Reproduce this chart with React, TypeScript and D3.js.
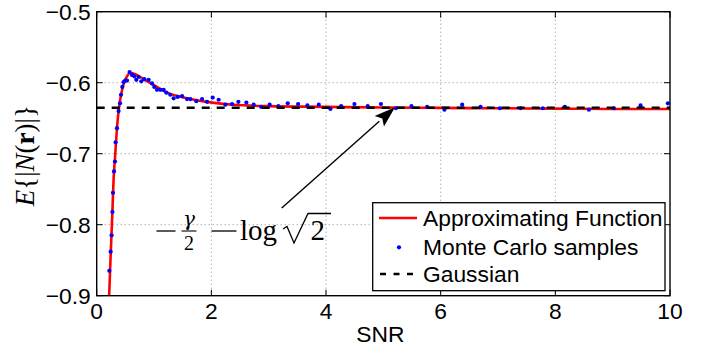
import React, { useEffect, useRef } from "react";
import * as d3 from "d3";

// axis ticks
const xTicks = [0, 2, 4, 6, 8, 10];
const yTicks = [-0.9, -0.8, -0.7, -0.6, -0.5];

// -gamma/2 - log(sqrt(2))
const gaussianValue = -0.6352;

// approximating function (red)
const approxSnr = [0.205, 0.215, 0.245, 0.27, 0.295, 0.32, 0.34, 0.36, 0.385, 0.43, 0.48, 0.53, 0.58, 0.64, 0.72, 0.82, 0.99, 1.23, 1.58, 1.92, 2.38, 3.0, 4.0, 5.0, 6.0, 7.0, 8.0, 9.0, 10.0];
const approxVal = [-0.93, -0.905, -0.84, -0.79, -0.735, -0.705, -0.68, -0.658, -0.638, -0.615, -0.599, -0.591, -0.586, -0.587, -0.59, -0.595, -0.603, -0.614, -0.622, -0.627, -0.631, -0.633, -0.634, -0.635, -0.6355, -0.636, -0.6365, -0.637, -0.637];

// Monte Carlo samples (blue dots)
const mcSnr = [0.22, 0.243, 0.26, 0.274, 0.284, 0.302, 0.319, 0.33, 0.354, 0.382, 0.407, 0.424, 0.447, 0.469, 0.499, 0.529, 0.574, 0.616, 0.656, 0.691, 0.731, 0.778, 0.831, 0.906, 0.965, 1.005, 1.052, 1.11, 1.168, 1.215, 1.284, 1.342, 1.412, 1.489, 1.576, 1.634, 1.738, 1.838, 1.925, 2.023, 2.127, 2.244, 2.361, 2.471, 2.611, 2.738, 2.867, 3.017, 3.169, 3.332, 3.513, 3.675, 3.873, 4.077, 4.264, 4.496, 4.728, 4.958, 5.22, 5.49, 5.764, 6.066, 6.375, 6.695, 7.031, 7.393, 7.782, 8.166, 8.585, 9.021, 9.487, 9.963];
const mcVal = [-0.865, -0.838, -0.815, -0.782, -0.755, -0.725, -0.711, -0.684, -0.664, -0.64, -0.629, -0.617, -0.606, -0.599, -0.597, -0.597, -0.585, -0.589, -0.591, -0.596, -0.592, -0.598, -0.595, -0.596, -0.601, -0.606, -0.61, -0.61, -0.61, -0.614, -0.617, -0.622, -0.62, -0.619, -0.623, -0.623, -0.626, -0.623, -0.627, -0.621, -0.624, -0.631, -0.63, -0.627, -0.628, -0.631, -0.634, -0.631, -0.633, -0.629, -0.63, -0.632, -0.631, -0.637, -0.633, -0.63, -0.633, -0.63, -0.636, -0.633, -0.634, -0.638, -0.631, -0.634, -0.636, -0.636, -0.636, -0.634, -0.638, -0.636, -0.632, -0.629];

const legendLabels = ["Approximating Function", "Monte Carlo samples", "Gaussian"];

const W = 704;
const H = 350;
const margin = { top: 11.7, right: 34, bottom: 54.3, left: 96.7 };
const sansFont = "'Liberation Sans', Arial, sans-serif";
const serifFont = "'Liberation Serif', 'Times New Roman', serif";
const fs = 22.8;

export default function App() {
  const ref = useRef<SVGSVGElement>(null);

  useEffect(() => {
    const root = d3.select(ref.current);
    root.selectAll("*").remove();

    const iw = W - margin.left - margin.right;
    const ih = H - margin.top - margin.bottom;

    const x = d3.scaleLinear().domain([0, 10]).range([0, iw]);
    const y = d3.scaleLinear().domain([-0.9, -0.5]).range([ih, 0]);

    root.append("rect").attr("width", W).attr("height", H).attr("fill", "#fff");

    const svg = root.append("g").attr("transform", `translate(${margin.left},${margin.top})`);

    svg.append("clipPath").attr("id", "plotclip")
      .append("rect").attr("width", iw).attr("height", ih);

    // dotted grid
    const grid = svg.append("g").attr("stroke", "#8a8a8a").attr("stroke-width", 1).attr("stroke-dasharray", "1,3");
    xTicks.slice(1, -1).forEach((t) => {
      grid.append("line").attr("x1", x(t)).attr("x2", x(t)).attr("y1", 0).attr("y2", ih);
    });
    yTicks.slice(1, -1).forEach((t) => {
      grid.append("line").attr("x1", 0).attr("x2", iw).attr("y1", y(t)).attr("y2", y(t));
    });

    const plot = svg.append("g").attr("clip-path", "url(#plotclip)");

    // approximating function
    const line = d3.line<number>()
      .x((d, i) => x(approxSnr[i]))
      .y((d) => y(d))
      .curve(d3.curveMonotoneX);
    plot.append("path")
      .attr("d", line(approxVal))
      .attr("fill", "none")
      .attr("stroke", "#ff0000")
      .attr("stroke-width", 2.6);

    // Monte Carlo samples
    plot.selectAll(".mc")
      .data(mcVal)
      .enter()
      .append("circle")
      .attr("class", "mc")
      .attr("cx", (d, i) => x(mcSnr[i]))
      .attr("cy", (d) => y(d))
      .attr("r", 2.1)
      .attr("fill", "#0000ff");

    // Gaussian
    plot.append("line")
      .attr("x1", x(0)).attr("x2", x(10))
      .attr("y1", y(gaussianValue)).attr("y2", y(gaussianValue))
      .attr("stroke", "#000")
      .attr("stroke-width", 2.4)
      .attr("stroke-dasharray", "8,7");

    // box and inside ticks
    svg.append("rect")
      .attr("width", iw).attr("height", ih)
      .attr("fill", "none").attr("stroke", "#000").attr("stroke-width", 1.4);
    const ticks = svg.append("g").attr("stroke", "#000").attr("stroke-width", 1);
    const tl = 6;
    xTicks.forEach((t) => {
      ticks.append("line").attr("x1", x(t)).attr("x2", x(t)).attr("y1", ih).attr("y2", ih - tl);
      ticks.append("line").attr("x1", x(t)).attr("x2", x(t)).attr("y1", 0).attr("y2", tl);
    });
    yTicks.forEach((t) => {
      ticks.append("line").attr("x1", 0).attr("x2", tl).attr("y1", y(t)).attr("y2", y(t));
      ticks.append("line").attr("x1", iw).attr("x2", iw - tl).attr("y1", y(t)).attr("y2", y(t));
    });

    // tick labels
    svg.selectAll(".xl")
      .data(xTicks)
      .enter()
      .append("text")
      .attr("x", (d) => x(d))
      .attr("y", ih + 23.5)
      .attr("text-anchor", "middle")
      .attr("font-family", sansFont)
      .attr("font-size", fs)
      .text((d) => String(d));
    svg.selectAll(".yl")
      .data(yTicks)
      .enter()
      .append("text")
      .attr("x", -6)
      .attr("y", (d) => y(d) + 8)
      .attr("text-anchor", "end")
      .attr("font-family", sansFont)
      .attr("font-size", fs)
      .text((d) => d.toFixed(1).replace("-", "\u2212"));

    // axis labels
    svg.append("text")
      .attr("x", x(5) - 3)
      .attr("y", ih + 46)
      .attr("text-anchor", "middle")
      .attr("font-family", sansFont)
      .attr("font-size", fs)
      .text("SNR");

    const yl = svg.append("text")
      .attr("transform", `translate(${-margin.left + 34},${y(-0.7) + 2}) rotate(-90)`)
      .attr("text-anchor", "middle")
      .attr("font-family", serifFont)
      .attr("font-size", 27);
    yl.append("tspan").attr("font-style", "italic").text("E");
    yl.append("tspan").text("{|");
    yl.append("tspan").attr("font-style", "italic").text("N");
    yl.append("tspan").text("(");
    yl.append("tspan").attr("font-weight", "bold").text("r");
    yl.append("tspan").text(")|}");

    // annotation
    const ann = root.append("g").attr("font-family", serifFont).attr("fill", "#000");
    ann.append("line").attr("x1", 156.5).attr("x2", 175.5).attr("y1", 231).attr("y2", 231).attr("stroke", "#000").attr("stroke-width", 1.3);
    ann.append("line").attr("x1", 181.5).attr("x2", 196.5).attr("y1", 231).attr("y2", 231).attr("stroke", "#000").attr("stroke-width", 1.1);
    ann.append("text").attr("x", 189).attr("y", 226).attr("text-anchor", "middle").attr("font-size", 20).attr("font-family", "'DejaVu Serif', serif").attr("font-style", "italic").text("\u03b3");
    ann.append("text").attr("x", 189).attr("y", 250).attr("text-anchor", "middle").attr("font-size", 20).text("2");
    ann.append("line").attr("x1", 211.5).attr("x2", 236.5).attr("y1", 231).attr("y2", 231).attr("stroke", "#000").attr("stroke-width", 1.3);
    ann.append("text").attr("x", 240).attr("y", 240).attr("font-size", 29).text("log");
    ann.append("path")
      .attr("d", "M283,229 L287,226.5 L294,243 L308,213.5 L331,213.5")
      .attr("fill", "none").attr("stroke", "#000").attr("stroke-width", 1.3).attr("stroke-linejoin", "miter");
    ann.append("text").attr("x", 310.5).attr("y", 240).attr("font-size", 29).text("2");

    // arrow
    const ax0 = 281.7, ay0 = 208, ax1 = 395, ay1 = 107.3;
    const ang = Math.atan2(ay1 - ay0, ax1 - ax0);
    const hl = 21, hw = 7;
    const bx = ax1 - hl * Math.cos(ang), by = ay1 - hl * Math.sin(ang);
    ann.append("line").attr("x1", ax0).attr("y1", ay0).attr("x2", bx).attr("y2", by).attr("stroke", "#000").attr("stroke-width", 1.4);
    ann.append("path")
      .attr("d", `M${ax1},${ay1} L${bx - hw * Math.sin(ang)},${by + hw * Math.cos(ang)} L${bx + 4 * Math.cos(ang)},${by + 4 * Math.sin(ang)} L${bx + hw * Math.sin(ang)},${by - hw * Math.cos(ang)} Z`)
      .attr("fill", "#000");

    // legend
    const lg = root.append("g");
    lg.append("rect")
      .attr("x", 372.7).attr("y", 202.7).attr("width", 292.3).attr("height", 88)
      .attr("fill", "#fff").attr("stroke", "#000").attr("stroke-width", 1.3);
    const rows = [218, 247.3, 274];
    lg.append("line").attr("x1", 379).attr("x2", 417).attr("y1", rows[0]).attr("y2", rows[0]).attr("stroke", "#ff0000").attr("stroke-width", 2.6);
    lg.append("circle").attr("cx", 399).attr("cy", rows[1]).attr("r", 2.1).attr("fill", "#0000ff");
    lg.append("line").attr("x1", 380).attr("x2", 417).attr("y1", rows[2]).attr("y2", rows[2]).attr("stroke", "#000").attr("stroke-width", 2.4).attr("stroke-dasharray", "6,7.5");
    legendLabels.forEach((lab, i) => {
      lg.append("text")
        .attr("x", 423)
        .attr("y", rows[i] + 7.8)
        .attr("font-family", sansFont)
        .attr("font-size", fs)
        .text(lab);
    });
  }, []);

  return (
    <div style={{ position: "absolute", left: 0, top: 0 }}>
      <svg ref={ref} width={W} height={H} style={{ display: "block" }} />
    </div>
  );
}
